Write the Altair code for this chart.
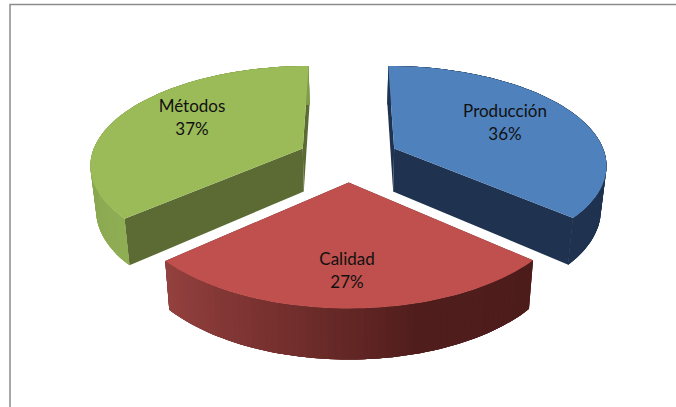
import math
import altair as alt
import pandas as pd

# Series shown by the exploded pie
categories = ["Producción", "Calidad", "Métodos"]
shares = [36.45, 27.0, 36.55]

# Face colours and the shading of each outer wall, from one end of its arc to the other
top_colors = ["#4f81bd", "#bf504d", "#9bbb59"]
inner_colors = ["#1f3350", "#5b1f1e", "#5b6b33"]
wall_ramps = [
    ["#1f3350", "#1f3350"],
    ["#4c1c1b", "#4f1d1c", "#76302e", "#93413f"],
    ["#8fad53", "#84a24c", "#7f9c49"],
]

# Perspective camera applied to the pie's ground plane
CX, CY = 348.5, 158.0
AX, BY = 212.0, 98.0
KX, KY = 0.15, 0.155
EXPLODE = 0.24
TAPER = 0.978
LABEL_PLACES = {"Producción": (505, 112), "Calidad": (347, 260), "Métodos": (192, 107)}


def project(px, pz):
    return CX + AX * px / (1 + KX * pz), CY - BY * pz / (1 + KY * pz)


def drop(px, pz):
    """Screen position of the bottom edge below a point of the top face."""
    sx, sy = project(px, pz)
    return CX + (sx - CX) * TAPER, sy + 1 / (0.02297 + 0.00272 * pz)


def ramp(stops, t):
    t = min(max(t, 0), 1) * (len(stops) - 1)
    i = min(int(t), len(stops) - 2)
    f = t - i
    a = [int(stops[i][j:j + 2], 16) for j in (1, 3, 5)]
    b = [int(stops[i + 1][j:j + 2], 16) for j in (1, 3, 5)]
    return "#%02x%02x%02x" % tuple(round(u + (v - u) * f) for u, v in zip(a, b))


base_rows, strip_rows, top_rows, shape_id = [], [], [], 0


def add_shape(rows, points, color):
    global shape_id
    shape_id += 1
    for i, (sx, sy) in enumerate(points + points[:1]):
        rows.append({"sx": sx, "sy": sy, "shape": shape_id, "i": i, "c": color})


start = 0.0
for name, share, top, inner, stops in zip(categories, shares, top_colors, inner_colors, wall_ramps):
    sweep = share / sum(shares) * 2 * math.pi
    mid = start + sweep / 2
    ox, oz = EXPLODE * math.sin(mid), EXPLODE * math.cos(mid)
    steps = 60
    rim = [
        (ox + math.sin(start + sweep * k / steps), oz + math.cos(start + sweep * k / steps))
        for k in range(steps + 1)
    ]
    # Flat inner faces meeting at the slice's apex
    for end in (rim[0], rim[-1]):
        add_shape(base_rows, [project(ox, oz), project(*end), drop(*end), drop(ox, oz)], inner)
    # Whole outer wall in its middle tone, so no seam shows between the strips
    add_shape(
        base_rows,
        [project(*p) for p in rim] + [drop(*p) for p in reversed(rim)],
        ramp(stops, 0.5),
    )
    # Overlapping strips that carry the shading
    for k in range(steps):
        piece = rim[k:k + 4]
        add_shape(
            strip_rows,
            [project(*p) for p in piece] + [drop(*p) for p in reversed(piece)],
            ramp(stops, k / (steps - 1)),
        )
    add_shape(top_rows, [project(ox, oz)] + [project(*p) for p in rim], top)
    start += sweep

frame = pd.DataFrame({"sx": [677, 10, 10], "sy": [4.5, 4.5, 408], "i": [0, 1, 2]})
labels = pd.DataFrame({
    "sx": [LABEL_PLACES[n][0] for n in categories],
    "sy": [LABEL_PLACES[n][1] for n in categories],
    "t": [f"{n}\n{round(s)}%" for n, s in zip(categories, shares)],
})

x = alt.X("sx:Q", scale=alt.Scale(domain=[0, 676], nice=False, zero=False), axis=None)
y = alt.Y("sy:Q", scale=alt.Scale(domain=[407, 0], nice=False, zero=False), axis=None)


def faces(rows):
    return alt.Chart(pd.DataFrame(rows)).mark_line(
        filled=True, strokeWidth=0, clip=True, opacity=1, fillOpacity=1
    ).encode(
        x=x, y=y,
        fill=alt.Fill("c:N", scale=None),
        detail="shape:N",
        order="i:Q",
    )


border = alt.Chart(frame).mark_line(color="#8c8c8c", strokeWidth=1.5, clip=True).encode(x=x, y=y, order="i:Q")
texts = alt.Chart(labels).mark_text(
    font="Lato", fontSize=17, color="#111111", lineBreak="\n", lineHeight=22.5
).encode(x=x, y=y, text="t:N")

chart = (
    alt.layer(border, faces(base_rows), faces(strip_rows), faces(top_rows), texts)
    .properties(width=676, height=407, padding=0, background="white")
    .configure_view(stroke=None)
)
chart.save("out.html", embed_options={"renderer": "svg", "actions": False})
